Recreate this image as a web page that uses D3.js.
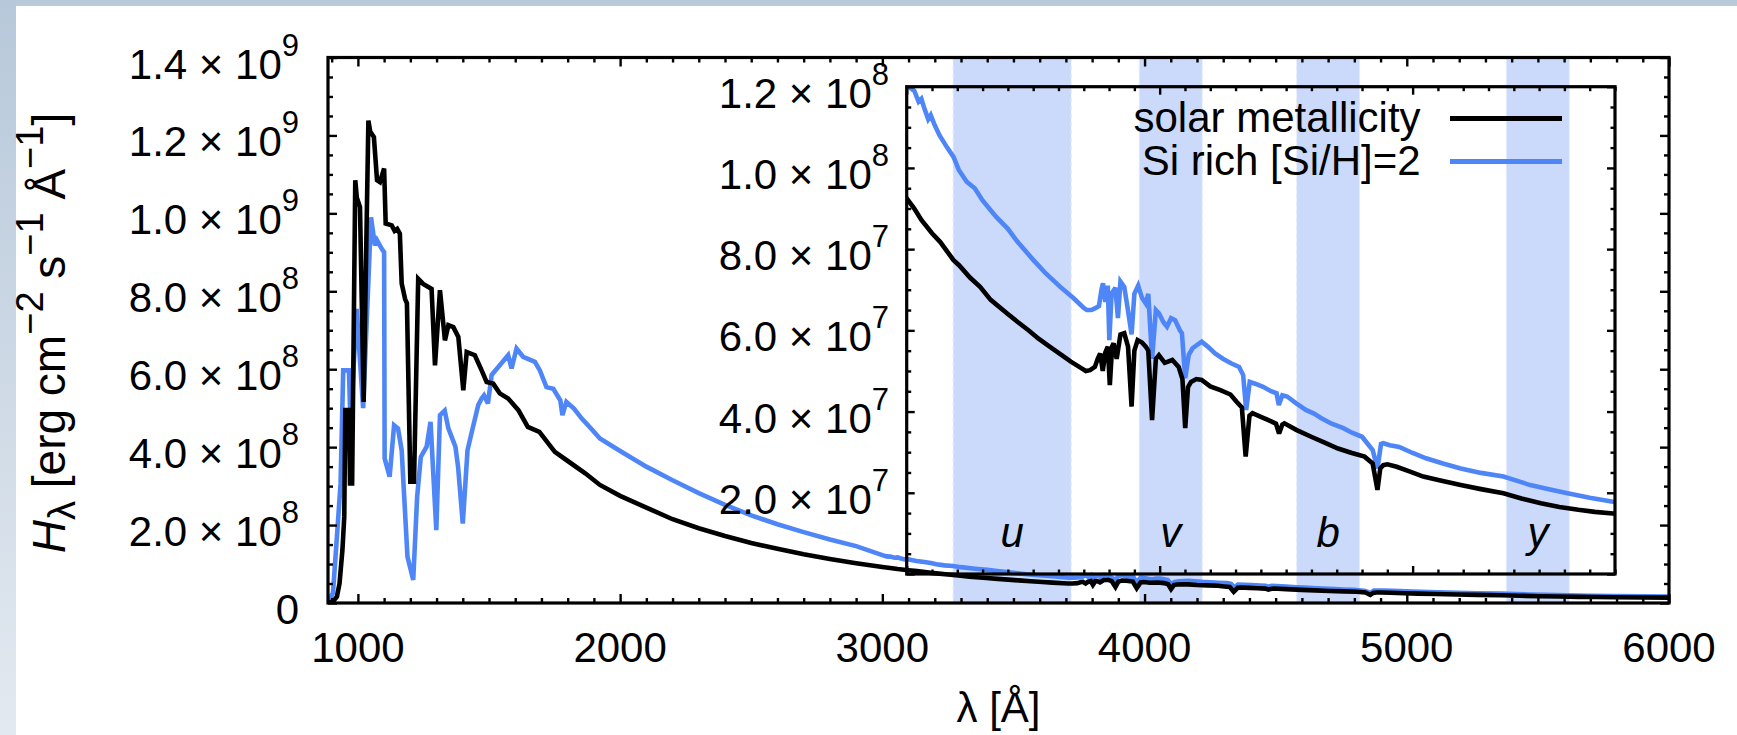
<!DOCTYPE html>
<html><head><meta charset="utf-8">
<script src="https://cdn.jsdelivr.net/npm/d3@7"></script>
<style>
html,body{margin:0;padding:0;background:#fff;}
svg{display:block;}
text{font-family:"Liberation Sans",Arial,Helvetica,sans-serif;fill:#000;}
</style></head><body>
<svg id="chart" width="1737" height="735"></svg>
<script>
// ---------------- data ----------------
// Wavelength [Å] and flux H_lambda [erg cm^-2 s^-1 Å^-1]
const solarWave = [886,905,920,930,941,948,952,966,970,978,990,996,1008,1022,1040,1047,1061,1073,1084,1100,1106,1129,1140,1150,1160,1167,1180,1187,1200,1214,1230,1249,1281,1294,1313,1332,1345,1364,1383,1402,1415,1446,1472,1491,1516,1541,1573,1612,1648,1692,1751,1795,1867,1923,
  2000,2100,2200,2300,2400,2500,2600,2700,2800,2900,
  3000,3030,3058,3100,3132,3185,3206,3250,3290,3332,3396,3440,3480,3520,3565,3610,3649,3690,3708,3725,3744,3755,3765,3775,3785,3795,3803,3812,3818,3830,3845,3860,3875,3889,3900,3913,3930,3945,3955,3970,3985,3997,4020,4050,4075,4090,4101,4112,4124,4145,4166,4200,4240,4280,4304,4325,4340,4355,4367,4400,4430,4460,4472,4485,4493,4540,4599,4650,4705,4760,4810,4842,4861,4872,4884,4900,4937,4990,5042,5110,5190,5270,5359,5430,5507,5580,5655,5720,5792,5900,6000];
const solarFlux = [0,0.4e7,1.6e7,5e7,13.6e7,22.1e7,49.5e7,49.5e7,30.7e7,30.7e7,108.5e7,104e7,101.6e7,51.6e7,123.8e7,121e7,119.6e7,108.5e7,108e7,111.5e7,97.4e7,96.9e7,95.5e7,96e7,94.8e7,82e7,78e7,76.9e7,31.1e7,31.1e7,83.2e7,81.9e7,80.6e7,61e7,80.3e7,67.4e7,71.3e7,70.8e7,68.3e7,54.6e7,64.4e7,63.6e7,59.7e7,56.7e7,56.3e7,53.8e7,52.5e7,49.5e7,45.2e7,43.9e7,38.8e7,36.7e7,33.3e7,30.3e7,
  27.5e7,24.5e7,21.5e7,19.2e7,17.2e7,15.4e7,13.9e7,12.5e7,11.3e7,10.2e7,
  9.25e7,9.0e7,8.72e7,8.39e7,8.18e7,7.73e7,7.61e7,7.3e7,7.07e7,6.75e7,6.42e7,6.2e7,6.01e7,5.8e7,5.6e7,5.4e7,5.23e7,5.07e7,5.0e7,5.02e7,5.1e7,5.3e7,5.43e7,5.0e7,5.45e7,5.6e7,4.65e7,5.6e7,5.68e7,5.3e7,5.9e7,5.93e7,5.6e7,4.12e7,5.5e7,5.76e7,5.7e7,5.6e7,5.5e7,3.79e7,5.3e7,5.39e7,5.2e7,5.27e7,5.1e7,4.8e7,3.59e7,4.6e7,4.73e7,4.8e7,4.78e7,4.62e7,4.53e7,4.42e7,4.24e7,4.1e7,2.89e7,3.9e7,3.96e7,3.87e7,3.79e7,3.7e7,3.46e7,3.68e7,3.71e7,3.55e7,3.38e7,3.24e7,3.09e7,2.98e7,2.89e7,2.72e7,2.07e7,2.6e7,2.68e7,2.7e7,2.64e7,2.52e7,2.4e7,2.3e7,2.19e7,2.09e7,1.99e7,1.86e7,1.74e7,1.65e7,1.58e7,1.53e7,1.49e7,1.43e7,1.38e7];

const siWave = [886,905,920,934,944,966,972,995,1020,1050,1065,1073,1091,1100,1102,1121,1138,1153,1167,1189,1211,1226,1240,1262,1277,1299,1313,1331,1345,1372,1382,1400,1418,1433,1459,1472,1481,1496,1510,1541,1573,1586,1605,1630,1675,1694,1719,1745,1772,1780,1795,1824,1853,1889,1923,
  2000,2100,2200,2300,2400,2500,2600,2700,2800,2900,
  3000,3016,3030,3047,3058,3068,3085,3095,3111,3130,3160,3185,3206,3237,3269,3300,3353,3400,3438,3501,3550,3607,3660,3700,3712,3730,3744,3760,3770,3776,3785,3795,3801,3810,3825,3835,3845,3860,3872,3889,3900,3915,3930,3945,3955,3970,3985,3997,4015,4029,4045,4061,4080,4088,4101,4115,4130,4166,4190,4219,4250,4282,4314,4330,4342,4356,4380,4409,4440,4462,4471,4485,4504,4540,4578,4610,4641,4680,4726,4760,4800,4842,4861,4875,4884,4910,4947,5000,5053,5120,5190,5270,5359,5420,5465,5530,5612,5700,5792,5900,6000];
const siFlux = [0,2.6e7,17e7,30.7e7,59.7e7,59.7e7,45e7,75.5e7,50e7,99e7,91.8e7,93.1e7,90.9e7,90e7,37.1e7,32.4e7,45.6e7,44.8e7,39.2e7,11.9e7,5.9e7,27.3e7,37.5e7,40.1e7,46.5e7,18.7e7,48.2e7,49.4e7,44.8e7,40.1e7,35e7,20.4e7,39.2e7,43.5e7,50.8e7,52.5e7,53.3e7,51.2e7,58.5e7,61e7,63.6e7,60.2e7,65.3e7,63.2e7,61.9e7,59.7e7,55.4e7,55e7,52e7,48.2e7,51.6e7,49.9e7,47.4e7,44.8e7,42.2e7,
  39e7,35e7,31.5e7,28.2e7,25.2e7,22.5e7,20.2e7,18.2e7,16.3e7,14.6e7,
  12.3e7,11.96e7,11.9e7,11.63e7,11.7e7,11.5e7,11.2e7,11.3e7,11.05e7,10.8e7,10.5e7,10.27e7,9.95e7,9.66e7,9.5e7,9.2e7,8.8e7,8.5e7,8.18e7,7.73e7,7.4e7,7.07e7,6.79e7,6.55e7,6.5e7,6.5e7,6.54e7,6.6e7,7.0e7,7.16e7,6.7e7,7.1e7,5.76e7,6.9e7,7.05e7,6.3e7,7.2e7,7.07e7,6.6e7,5.9e7,6.9e7,7.1e7,6.8e7,6.66e7,6.9e7,5.3e7,6.5e7,6.42e7,6.2e7,6.09e7,6.3e7,6.25e7,6.0e7,5.93e7,4.82e7,5.4e7,5.56e7,5.72e7,5.6e7,5.43e7,5.3e7,5.19e7,5.1e7,4.9e7,4.04e7,4.73e7,4.68e7,4.61e7,4.5e7,4.45e7,4.16e7,4.4e7,4.37e7,4.2e7,4.04e7,3.95e7,3.83e7,3.7e7,3.59e7,3.48e7,3.38e7,3.05e7,2.6e7,3.2e7,3.22e7,3.17e7,3.13e7,2.98e7,2.85e7,2.72e7,2.6e7,2.49e7,2.4e7,2.28e7,2.19e7,2.1e7,1.99e7,1.88e7,1.78e7,1.72e7,1.65e7];

const seriesNames = ["solar metallicity", "Si rich [Si/H]=2"];
const seriesColors = ["#000000", "#4f86f7"];

// Strömgren filter bands [Å]
const bandNames = ["u", "v", "b", "y"];
const bandStart = [3270, 3980, 4580, 5380];
const bandEnd   = [3720, 4220, 4820, 5620];

// axes
const mainXDomain = [886, 6000];
const mainYDomain = [0, 1.4e9];
const insetXDomain = [3000, 5800];
const insetYDomain = [0, 1.2e8];
const mainXTicks = [1000, 2000, 3000, 4000, 5000, 6000];
const mainYTicks = [0, 2e8, 4e8, 6e8, 8e8, 1e9, 1.2e9, 1.4e9];
const insetYTicks = [2e7, 4e7, 6e7, 8e7, 1e8, 1.2e8];

// ---------------- drawing ----------------
const svg = d3.select("#chart");
const M = {l: 328, r: 1669, t: 57.5, b: 603};
const I = {l: 906.7, r: 1615, t: 86.7, b: 574};
const FS = 42, SUP = 31;

const x = d3.scaleLinear().domain(mainXDomain).range([M.l, M.r]);
const y = d3.scaleLinear().domain(mainYDomain).range([M.b, M.t]);
const xi = d3.scaleLinear().domain(insetXDomain).range([I.l, I.r]);
const yi = d3.scaleLinear().domain(insetYDomain).range([I.b, I.t]);

// page background frame
const defs = svg.append("defs");
const grad = defs.append("linearGradient").attr("id", "leftg").attr("x1", 0).attr("y1", 0).attr("x2", 0).attr("y2", 1);
grad.append("stop").attr("offset", "0%").attr("stop-color", "#b7c8da");
grad.append("stop").attr("offset", "100%").attr("stop-color", "#e3e9f0");
svg.append("rect").attr("width", 1737).attr("height", 735).attr("fill", "#fff");
svg.append("rect").attr("x", 0).attr("y", 0).attr("width", 1737).attr("height", 6).attr("fill", "#b8c9da");
svg.append("rect").attr("x", 0).attr("y", 0).attr("width", 16).attr("height", 735).attr("fill", "url(#leftg)");

defs.append("clipPath").attr("id", "clipMain").append("rect")
  .attr("x", M.l).attr("y", M.t).attr("width", M.r - M.l).attr("height", M.b - M.t);
defs.append("clipPath").attr("id", "clipInset").append("rect")
  .attr("x", I.l).attr("y", I.t).attr("width", I.r - I.l).attr("height", I.b - I.t);

// bands (main wavelength scale, full height)
const bands = svg.append("g").attr("clip-path", "url(#clipMain)");
bandNames.forEach((n, i) => {
  bands.append("rect").attr("x", x(bandStart[i])).attr("y", M.t)
    .attr("width", x(bandEnd[i]) - x(bandStart[i])).attr("height", M.b - M.t)
    .attr("fill", "#cbdafb");
  [bandStart[i], bandEnd[i]].forEach(w => {
    bands.append("line").attr("x1", x(w)).attr("x2", x(w)).attr("y1", M.t).attr("y2", M.b)
      .attr("stroke", "#e2eafc").attr("stroke-width", 1.2).attr("stroke-dasharray", "4,4");
  });
});

const series = [
  {wave: solarWave, flux: solarFlux, color: seriesColors[0]},
  {wave: siWave, flux: siFlux, color: seriesColors[1]}
];

function drawCurves(g, sx, sy, clip) {
  const gg = g.append("g").attr("clip-path", clip);
  // draw blue first, black on top (as in the reference)
  [series[1], series[0]].forEach(s => {
    const line = d3.line().x((d, i) => sx(s.wave[i])).y(d => sy(d));
    gg.append("path").datum(s.flux).attr("d", line)
      .attr("fill", "none").attr("stroke", s.color).attr("stroke-width", 4.6)
      .attr("stroke-linejoin", "miter").attr("stroke-miterlimit", 3);
  });
}

function ticksOf(lo, hi, step) {
  const out = [];
  for (let v = Math.ceil(lo / step) * step; v <= hi + 1e-9 * Math.abs(hi); v += step) out.push(v);
  return out;
}

function drawFrame(sx, sy, B, xMajor, xMinor, yMajor, yMinor, majLen, minLen) {
  const g = svg.append("g");
  const mk = (axisFn, scale, vals, len, tr) => {
    const a = axisFn(scale).tickValues(vals).tickSize(-len).tickFormat("");
    const ag = g.append("g").attr("transform", tr).call(a);
    ag.select(".domain").remove();
    ag.selectAll("line").attr("stroke", "#000").attr("stroke-width", 2.4);
  };
  mk(d3.axisBottom, sx, xMajor, majLen, `translate(0,${B.b})`);
  mk(d3.axisBottom, sx, xMinor, minLen, `translate(0,${B.b})`);
  mk(d3.axisTop, sx, xMajor, majLen, `translate(0,${B.t})`);
  mk(d3.axisTop, sx, xMinor, minLen, `translate(0,${B.t})`);
  mk(d3.axisLeft, sy, yMajor, majLen, `translate(${B.l},0)`);
  mk(d3.axisLeft, sy, yMinor, minLen, `translate(${B.l},0)`);
  mk(d3.axisRight, sy, yMajor, majLen, `translate(${B.r},0)`);
  mk(d3.axisRight, sy, yMinor, minLen, `translate(${B.r},0)`);
  g.append("rect").attr("x", B.l).attr("y", B.t).attr("width", B.r - B.l).attr("height", B.b - B.t)
    .attr("fill", "none").attr("stroke", "#000").attr("stroke-width", 3.2);
}

function sciLabel(g, v, xEnd, yBase) {
  const t = g.append("text").attr("x", xEnd).attr("y", yBase).attr("text-anchor", "end")
    .attr("font-size", FS);
  if (v === 0) { t.text("0"); return; }
  const e = Math.floor(Math.log10(v) + 1e-9);
  const m = v / Math.pow(10, e);
  t.append("tspan").text(m.toFixed(1) + " \u00d7 10");
  t.append("tspan").attr("font-size", SUP).attr("dy", -23).text(String(e));
}

// ---- main plot ----
drawCurves(svg, x, y, "url(#clipMain)");
const mainXMinor = ticksOf(900, 6000, 100).filter(v => v % 1000 !== 0);
const mainYMinor = ticksOf(0, 1.4e9, 5e7).filter(v => Math.abs(v / 2e8 - Math.round(v / 2e8)) > 1e-6);
drawFrame(x, y, M, mainXTicks, mainXMinor, mainYTicks, mainYMinor, 9, 5);

const labels = svg.append("g");
mainYTicks.forEach(v => sciLabel(labels, v, 299, y(v) + 21));
mainXTicks.forEach(v => labels.append("text").attr("x", x(v)).attr("y", 662)
  .attr("text-anchor", "middle").attr("font-size", FS).text(v));

// axis titles
labels.append("text").attr("x", (M.l + M.r) / 2).attr("y", 722).attr("text-anchor", "middle")
  .attr("font-size", FS).text("\u03bb [\u00c5]");
const TS = 46, TSUP = 38;
const yt = labels.append("text").attr("transform", `translate(65,333) rotate(-90)`)
  .attr("text-anchor", "middle").attr("font-size", TS);
yt.append("tspan").attr("font-style", "italic").text("H");
yt.append("tspan").attr("font-size", TSUP).attr("dy", 10).text("\u03bb");
yt.append("tspan").attr("dy", -10).text(" [erg cm");
yt.append("tspan").attr("font-size", TSUP).attr("dy", -22).text("\u22122");
yt.append("tspan").attr("dy", 22).text(" s");
yt.append("tspan").attr("font-size", TSUP).attr("dy", -22).text("\u22121");
yt.append("tspan").attr("dy", 22).text(" \u00c5");
yt.append("tspan").attr("font-size", TSUP).attr("dy", -22).text("\u22121");
yt.append("tspan").attr("dy", 22).text("]");

// ---- inset ----
drawCurves(svg, xi, yi, "url(#clipInset)");
const insetXMajor = [3000, 4000, 5000];
const insetXMinor = ticksOf(3000, 5800, 100).filter(v => v % 1000 !== 0);
const insetYMajor = [0].concat(insetYTicks);
const insetYMinor = ticksOf(0, 1.2e8, 5e6).filter(v => Math.abs(v / 2e7 - Math.round(v / 2e7)) > 1e-6);
drawFrame(xi, yi, I, insetXMajor, insetXMinor, insetYMajor, insetYMinor, 8, 4.5);
insetYTicks.forEach(v => sciLabel(labels, v, 889, yi(v) + 21));

// band labels
bandNames.forEach((n, i) => labels.append("text")
  .attr("x", x((bandStart[i] + bandEnd[i]) / 2)).attr("y", 547)
  .attr("text-anchor", "middle").attr("font-size", FS).attr("font-style", "italic").text(n));

// legend
const leg = svg.append("g");
const legY = [132, 175];
[0, 1].forEach(i => {
  leg.append("text").attr("x", 1420.6).attr("y", legY[i]).attr("text-anchor", "end")
    .attr("font-size", FS).text(seriesNames[i]);
  leg.append("line").attr("x1", 1450).attr("x2", 1562).attr("y1", legY[i] - 13.5).attr("y2", legY[i] - 13.5)
    .attr("stroke", seriesColors[i]).attr("stroke-width", 5);
});
</script>
</body></html>
